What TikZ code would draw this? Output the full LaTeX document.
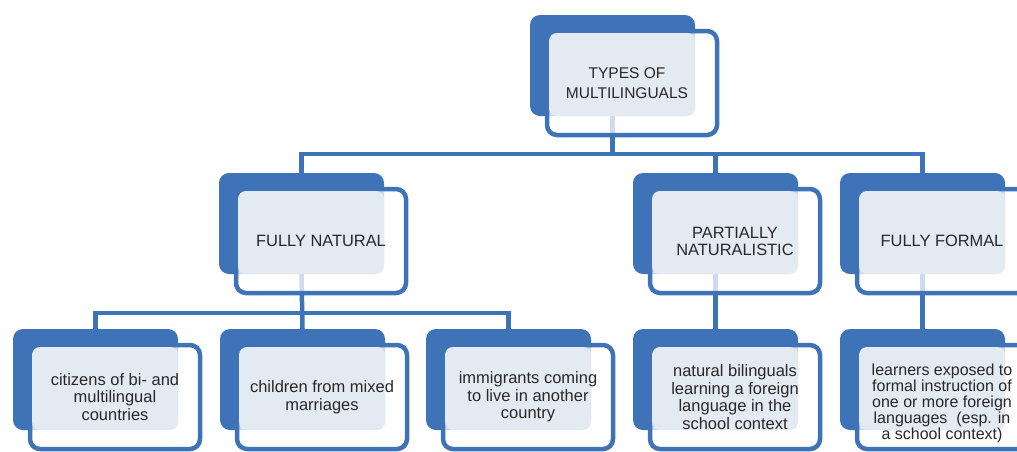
\documentclass[tikz,border=0pt]{standalone}
\usepackage{fontspec}
\setmainfont{Liberation Sans}
\usetikzlibrary{backgrounds}

\definecolor{smartblue}{RGB}{62,115,183}
\definecolor{paleblue}{RGB}{228,234,242}
\definecolor{inkgray}{RGB}{40,40,40}

\tikzset{
  tierback/.style={fill=smartblue, rounded corners=10pt, minimum width=165pt, minimum height=101pt,
    anchor=north west, inner sep=0pt, outer sep=0pt},
  tierframe/.style={draw=smartblue, line width=4.5pt, fill=white, fill opacity=.75, rounded corners=10pt,
    minimum width=170pt, minimum height=104pt, anchor=north west, inner sep=0pt, outer sep=0pt},
  tiertint/.style={fill=paleblue, rounded corners=8pt},
  link/.style={draw=smartblue, line width=4.5pt},
  headtext/.style={text=inkgray, align=center, font=\fontsize{15.5}{19.5}\selectfont},
  midtext/.style={text=inkgray, align=center, font=\fontsize{16.4}{17}\selectfont},
  leaftext/.style={text=inkgray, align=center, font=\fontsize{16.5}{17.5}\selectfont},
}

% name, x, y (top left of the blue back), text style, text
\newcommand{\tierbox}[5]{%
  \node[tierback] (#1-back) at (#2,#3) {};
  \node[tierframe] (#1) at ([shift={(17,16)}]#1-back.north west) {};
  \fill[tiertint] ([shift={(2,2)}]#1.north west) rectangle (#1-back.south east);
  \node[#4] (#1-text) at (#1.center) {#5};
}

\begin{document}
\begin{tikzpicture}[x=1pt, y=-1pt]
  \useasboundingbox (0,0) rectangle (1017,451);

  % top
  \tierbox{top}{530}{15}{headtext, xshift=-5pt}{TYPES OF\\MULTILINGUALS}

  % second row
  \tierbox{natural}{219}{173}{midtext}{FULLY NATURAL}
  \tierbox{partial}{633}{173}{midtext}{PARTIALLY\\NATURALISTIC}
  \tierbox{formal}{840}{173}{midtext}{FULLY FORMAL}

  % third row
  \tierbox{citizens}{13}{329}{leaftext}{citizens of bi- and\\multilingual\\countries}
  \tierbox{children}{220}{329}{leaftext}{children from mixed\\marriages}
  \tierbox{immigrants}{426}{329}{leaftext}{immigrants coming\\to live in another\\country}
  \tierbox{bilingual}{633}{329}{leaftext}{natural bilinguals\\learning a foreign\\language in the\\school context}
  \tierbox{learners}{840}{329}{leaftext, font=\fontsize{16}{16}\selectfont, yshift=-6pt}{learners exposed to\\formal instruction of\\one or more foreign\\languages\ \ (esp. in\\a school context)}

  % connectors
  \begin{pgfonlayer}{background}
    \coordinate (upperbus) at (0,154);
    \coordinate (lowerbus) at (0,313);
    \draw[link] (top-back.south) -- (top-back.south |- upperbus);
    \draw[link] (natural-back.north) |- (formal-back.north |- upperbus) -- (formal-back.north);
    \draw[link] (partial-back.north) -- (partial-back.north |- upperbus);
    \draw[link] (natural-back.south) -- (children-back.north);
    \draw[link] (citizens-back.north) |- (immigrants-back.north |- lowerbus) -- (immigrants-back.north);
    \draw[link] (partial-back.south) -- (bilingual-back.north);
    \draw[link] (formal-back.south) -- (learners-back.north);
  \end{pgfonlayer}
\end{tikzpicture}
\end{document}
